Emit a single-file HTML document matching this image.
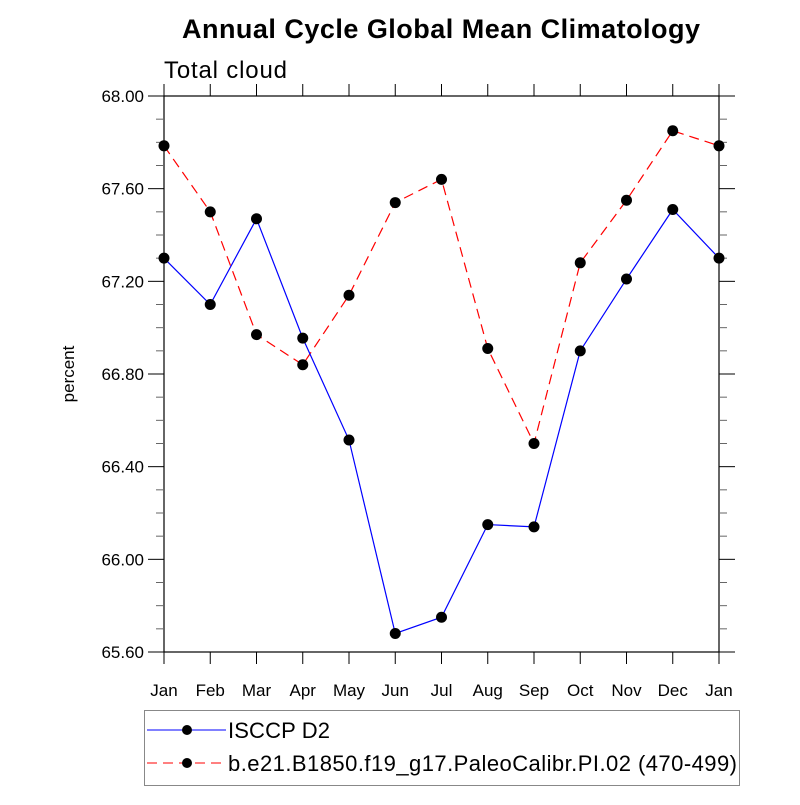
<!DOCTYPE html>
<html><head><meta charset="utf-8"><style>
body{margin:0;background:#fff;}
svg text{font-family:"Liberation Sans",Arial,sans-serif;}
</style></head><body>
<svg id="chart" width="800" height="800" viewBox="0 0 800 800">
<text x="441" y="38" font-size="27" font-weight="bold" text-anchor="middle" textLength="518">Annual Cycle Global Mean Climatology</text>
<text x="164" y="78" font-size="24" textLength="123">Total cloud</text>
<text transform="translate(74,374) rotate(-90)" font-size="17" text-anchor="middle">percent</text>
<g id="axes"></g>
<g id="series"></g>
<g id="legend">
<rect x="144.5" y="710.5" width="595" height="75" fill="none" stroke="#888"/>
<g>
<line x1="147" y1="730" x2="226" y2="730" stroke="#00f"/><circle cx="187" cy="730" r="5" fill="#000"/>
<text x="228" y="738" font-size="22" textLength="102">ISCCP D2</text></g>
<g>
<line x1="147" y1="763" x2="226" y2="763" stroke="#f00" stroke-dasharray="10,6"/><circle cx="187" cy="763" r="5" fill="#000"/>
<text x="228" y="771" font-size="22" textLength="509">b.e21.B1850.f19_g17.PaleoCalibr.PI.02 (470-499)</text></g>
</g>
</svg>
<script>
const months=["Jan","Feb","Mar","Apr","May","Jun","Jul","Aug","Sep","Oct","Nov","Dec","Jan"];
const isccp=[67.30,67.10,67.47,66.955,66.515,65.68,65.75,66.15,66.14,66.90,67.21,67.51,67.30];
const model=[67.785,67.50,66.97,66.84,67.14,67.54,67.64,66.91,66.50,67.28,67.55,67.85,67.785];
const yTicks=["65.60","66.00","66.40","66.80","67.20","67.60","68.00"];
const X0=164,X1=719,Y0=652,Y1=96,YMIN=65.6,YMAX=68.0;
const xs=i=>X0+(X1-X0)*i/(months.length-1);
const ys=v=>Y0-(v-YMIN)/(YMAX-YMIN)*(Y0-Y1);
const NS="http://www.w3.org/2000/svg";
function mk(p,t,a){const e=document.createElementNS(NS,t);for(const k in a)e.setAttribute(k,a[k]);p.appendChild(e);return e;}
const ax=document.getElementById('axes');
const frame=mk(ax,'rect',{x:X0,y:Y1,width:X1-X0,height:Y0-Y1,fill:'none',stroke:'#000','stroke-width':1.2});


for(let k=0;k<=24;k++){
  const v=YMIN+k*0.1;const y=ys(v);const major=k%4===0;
  const L=major?16:8;
  mk(ax,'line',{x1:X0-L,y1:y,x2:X0,y2:y,stroke:major?'#000':'#666'});
  mk(ax,'line',{x1:X1,y1:y,x2:X1+L,y2:y,stroke:major?'#000':'#666'});
}
yTicks.forEach(t=>{
  const e=mk(ax,'text',{x:X0-20,y:ys(parseFloat(t))+6,'font-size':17,'text-anchor':'end'});e.textContent=t;
  
  
});
months.forEach((m,i)=>{
  const x=xs(i);
  mk(ax,'line',{x1:x,y1:Y0,x2:x,y2:Y0+12,stroke:'#000'});
  mk(ax,'line',{x1:x,y1:Y1-12,x2:x,y2:Y1,stroke:'#000'});
  const e=mk(ax,'text',{x:x,y:Y0+44,'font-size':17,'text-anchor':'middle'});e.textContent=m;
  
  
});
const sg=document.getElementById('series');
function draw(vals,color,dash,name){
  const g=mk(sg,'g',{});
  
  
  const pl=mk(g,'polyline',{points:vals.map((v,i)=>xs(i)+','+ys(v)).join(' '),fill:'none',stroke:color,'stroke-width':1.2});
  if(dash)pl.setAttribute('stroke-dasharray',dash);
  vals.forEach((v,i)=>{const c=mk(g,'circle',{cx:xs(i),cy:ys(v),r:5.5,fill:'#000'});
    
    });
}
draw(model,'#f00','10,6','model-series');
draw(isccp,'#00f',null,'isccp-series');
</script>
</body></html>
